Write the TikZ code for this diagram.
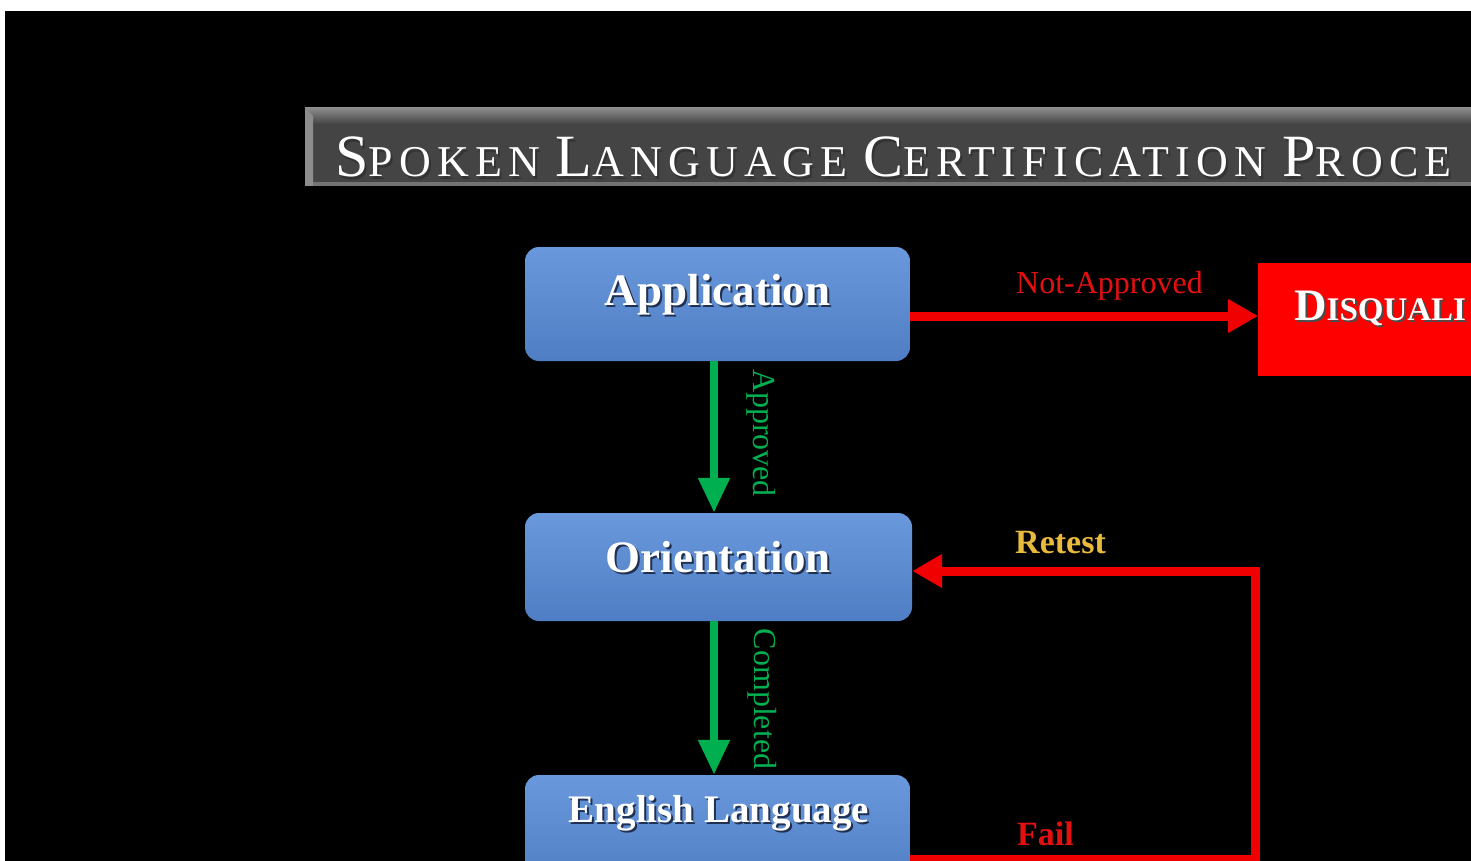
\documentclass[tikz,border=0pt]{standalone}
\usepackage{fontspec}
\usepackage{graphicx}
\setmainfont{Liberation Serif}
\newfontfamily\titlefont[LetterSpace=14]{Liberation Serif}
\usetikzlibrary{arrows.meta}
\definecolor{boxtop}{RGB}{106,152,220}
\definecolor{boxbot}{RGB}{80,126,196}
\definecolor{arrgreen}{RGB}{0,176,80}
\definecolor{arrred}{RGB}{240,0,0}
\definecolor{labred}{RGB}{228,16,16}
\definecolor{labgold}{RGB}{234,186,62}
\definecolor{bargray}{RGB}{68,68,68}
\definecolor{barlight}{RGB}{140,140,140}
\definecolor{shadowc}{RGB}{32,48,80}
\definecolor{dqred}{RGB}{255,0,0}
\newcommand\tbig[1]{{\fontsize{60}{60}\selectfont #1}}
\newcommand\tsml[1]{{\fontsize{44}{44}\selectfont #1}}
\newcommand\tgap{\hspace{16pt}}
\newcommand\titletext{\titlefont\tbig{S}\tsml{POKEN}\tgap\tbig{L}\tsml{ANGUAGE}\tgap\tbig{C}\tsml{ERTIFICATION}\tgap\tbig{P}\tsml{ROCE}}
\newcommand\dqtext{\fontsize{45}{45}\selectfont D\fontsize{33}{33}\selectfont ISQUALI}
\tikzset{
  procbox/.style={rounded corners=14pt, minimum width=385pt, inner sep=0pt,
    top color=boxtop, bottom color=boxbot, draw=none},
  boxtext/.style={text=white, inner sep=0pt},
  boxshadow/.style={text=shadowc, inner sep=0pt},
  greenarr/.style={draw=arrgreen, line width=8pt, -{Triangle[width=30pt,length=35pt]}},
  redarr/.style={draw=arrred, line width=9pt, line join=miter, -{Triangle[width=32pt,length=30pt]}},
  edgelab/.style={inner sep=0pt, font=\fontsize{32}{32}\selectfont},
}
\begin{document}
\begin{tikzpicture}[x=1pt,y=-1pt]
\useasboundingbox (0,0) rectangle (1471,861);
\clip (0,0) rectangle (1471,861);
\fill[white] (0,0) rectangle (1471,861);
\fill[black] (5,11) rectangle (1471,861);

% title bar
\fill[bargray] (305,108) rectangle (1480,186);
\shade[top color=barlight, bottom color=bargray] (305,108) rectangle (1480,124);
\fill[black!55] (305,182) rectangle (1480,186);
\fill[black!45] (305,108) -- (313,116) -- (313,186) -- (305,186) -- cycle;
\node[anchor=base west, inner sep=0pt, text=black!80] (titlesh) at (337,179) {\titletext};
\node[anchor=base west, inner sep=0pt, text=white] (title) at (335,177) {\titletext};

% process boxes
\node[procbox, minimum height=114pt] (app) at (717.5,304) {};
\node[procbox, minimum height=108pt, minimum width=387pt] (ori) at (718.5,567) {};
\node[procbox, minimum height=110pt] (eng) at (717.5,830) {};

\node[boxshadow, anchor=base, font=\fontsize{45}{45}\selectfont\bfseries] (appsh) at (719.5,307) {Application};
\node[boxtext, anchor=base, font=\fontsize{45}{45}\selectfont\bfseries] (appt) at (717.5,305) {Application};
\node[boxshadow, anchor=base, font=\fontsize{45}{45}\selectfont\bfseries] (orish) at (720,574) {Orientation};
\node[boxtext, anchor=base, font=\fontsize{45}{45}\selectfont\bfseries] (orit) at (718,572) {Orientation};
\node[boxshadow, anchor=base, font=\fontsize{39}{39}\selectfont\bfseries] (engsh) at (721,824) {English Language};
\node[boxtext, anchor=base, font=\fontsize{39}{39}\selectfont\bfseries] (engt) at (719,822) {English Language};

% disqualified box
\node[fill=dqred, draw=none, minimum width=260pt, minimum height=113pt, anchor=north west, inner sep=0pt] (dq) at (1258,263) {};
\node[anchor=base west, inner sep=0pt, text=black!70, font=\bfseries] (dqsh) at (1296,322) {\dqtext};
\node[anchor=base west, inner sep=0pt, text=white, font=\bfseries] (dqt) at (1294,320) {\dqtext};

% helper coordinates
\coordinate (gx) at (714,0);
\coordinate (na) at (0,316);
\coordinate (fb) at (1255,859);
\coordinate (rc) at (1255,571);

% connectors
\draw[greenarr] (app.south -| gx) -- (ori.north -| gx);
\draw[greenarr] (ori.south -| gx) -- (eng.north -| gx);
\draw[redarr] (app.east |- na) -- (dq.west |- na);
\draw[redarr] (eng.east |- fb) -- (fb) -- (rc) -- (ori.east |- rc);

% labels
\node[edgelab, text=arrgreen, rotate=-90] (lapp) at (761,433) {Approved};
\node[edgelab, text=arrgreen, rotate=-90] (lcomp) at (762,699) {Completed};
\node[edgelab, text=labred, anchor=base west] (lna) at (1016,293) {Not-Approved};
\node[inner sep=0pt, text=labgold, anchor=base west, font=\fontsize{34}{34}\selectfont\bfseries] (lret) at (1015,553) {Retest};
\node[inner sep=0pt, text=labred, anchor=base west, font=\fontsize{34}{34}\selectfont\bfseries] (lfail) at (1017,845) {Fail};
\end{tikzpicture}
\end{document}
